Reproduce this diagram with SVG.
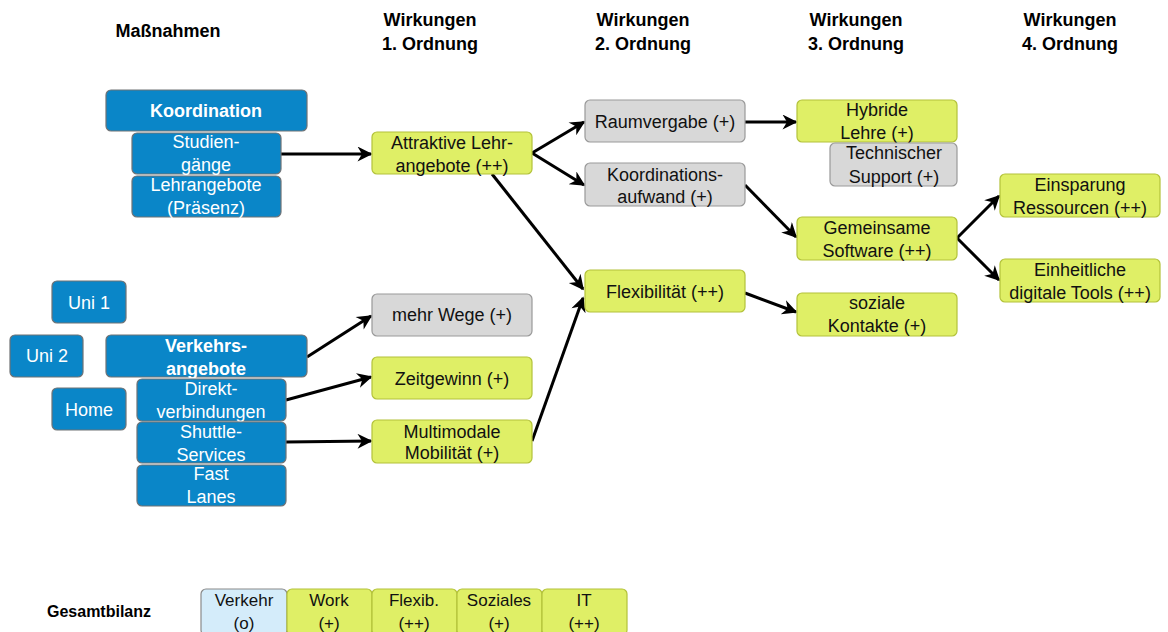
<svg xmlns="http://www.w3.org/2000/svg" width="1168" height="632" viewBox="0 0 1168 632">
  <style>
    text { font-family: "Liberation Sans", Arial, sans-serif; text-anchor: middle; }
    .hd { font-size: 18px; font-weight: bold; fill: #000; }
    .gb { font-size: 16px; font-weight: bold; fill: #000; }
    .t { font-size: 18px; fill: #111; }
    .s { font-size: 17px; fill: #111; }
    .w { font-size: 18px; fill: #fff; }
    .wb { font-size: 18px; fill: #fff; font-weight: bold; }
    .bl { fill: #0a86c8; stroke: #6f7275; stroke-width: 1.2; }
    .gr { fill: #dfef66; stroke: #b3c23a; stroke-width: 1.2; }
    .gy { fill: #d8d8d8; stroke: #999; stroke-width: 1.2; }
    .lb { fill: #d4ecfa; stroke: #8a8a8a; stroke-width: 1.2; }
    .c { fill: none; stroke: #000; stroke-width: 3; marker-end: url(#ah); }
  </style>
  <defs>
    <marker id="ah" viewBox="0 0 10 10" refX="9" refY="5" markerWidth="18" markerHeight="15" markerUnits="userSpaceOnUse" orient="auto">
      <path d="M0,0 L10,5 L0,10 L3,5 Z" fill="#000"/>
    </marker>
  </defs>
  <rect width="1168" height="632" fill="#fff"/>

  <!-- column headers -->
  <g id="headers">
    <text class="hd" x="168" y="37">Maßnahmen</text>
    <text class="hd" x="430" y="26">Wirkungen</text><text class="hd" x="430" y="50">1. Ordnung</text>
    <text class="hd" x="643" y="26">Wirkungen</text><text class="hd" x="643" y="50">2. Ordnung</text>
    <text class="hd" x="856" y="26">Wirkungen</text><text class="hd" x="856" y="50">3. Ordnung</text>
    <text class="hd" x="1070" y="26">Wirkungen</text><text class="hd" x="1070" y="50">4. Ordnung</text>
  </g>

  <!-- connectors -->
  <g id="connectors">
    <path class="c" d="M281,154 L371,154"/>
    <path class="c" d="M532,153 L584,122"/>
    <path class="c" d="M532,153 L584,185"/>
    <path class="c" d="M492,174 L583,289"/>
    <path class="c" d="M745,122 L796,122"/>
    <path class="c" d="M745,185 L796,237"/>
    <path class="c" d="M745,293 L796,312"/>
    <path class="c" d="M957,238 L999,196"/>
    <path class="c" d="M957,238 L999,280"/>
    <path class="c" d="M307,357 L371,316"/>
    <path class="c" d="M286,400 L371,377"/>
    <path class="c" d="M286,442 L371,441"/>
    <path class="c" d="M532,441 L583,298"/>
  </g>

  <!-- measures: coordination -->
  <g id="n-koordination"><rect class="bl" x="106" y="90" width="201" height="41" rx="5"/><text class="wb" x="206" y="117">Koordination</text></g>
  <g id="n-studiengaenge"><rect class="bl" x="132" y="133" width="149" height="41" rx="5"/><text class="w" x="206" y="148">Studien-</text><text class="w" x="206" y="171">gänge</text></g>
  <g id="n-lehrangebote"><rect class="bl" x="132" y="176" width="149" height="41" rx="5"/><text class="w" x="206" y="191">Lehrangebote</text><text class="w" x="206" y="214">(Präsenz)</text></g>

  <!-- measures: transport -->
  <g id="n-uni1"><rect class="bl" x="52" y="281" width="74" height="42" rx="5"/><text class="w" x="89" y="309">Uni 1</text></g>
  <g id="n-uni2"><rect class="bl" x="10" y="335" width="73" height="42" rx="5"/><text class="w" x="47" y="362">Uni 2</text></g>
  <g id="n-home"><rect class="bl" x="52" y="388" width="74" height="42" rx="5"/><text class="w" x="89" y="416">Home</text></g>
  <g id="n-verkehrsangebote"><rect class="bl" x="106" y="335" width="201" height="42" rx="5"/><text class="wb" x="206" y="352">Verkehrs-</text><text class="wb" x="206" y="375">angebote</text></g>
  <g id="n-direkt"><rect class="bl" x="137" y="379" width="149" height="42" rx="5"/><text class="w" x="211" y="395">Direkt-</text><text class="w" x="211" y="418">verbindungen</text></g>
  <g id="n-shuttle"><rect class="bl" x="137" y="422" width="149" height="41" rx="5"/><text class="w" x="211" y="438">Shuttle-</text><text class="w" x="211" y="461">Services</text></g>
  <g id="n-fastlanes"><rect class="bl" x="137" y="465" width="149" height="41" rx="5"/><text class="w" x="211" y="480">Fast</text><text class="w" x="211" y="503">Lanes</text></g>

  <!-- first order -->
  <g id="n-attraktiv"><rect class="gr" x="372" y="132" width="160" height="42" rx="5"/><text class="t" x="452" y="149">Attraktive Lehr-</text><text class="t" x="452" y="172">angebote (++)</text></g>
  <g id="n-mehrwege"><rect class="gy" x="372" y="294" width="160" height="42" rx="5"/><text class="t" x="452" y="321">mehr Wege (+)</text></g>
  <g id="n-zeitgewinn"><rect class="gr" x="372" y="357" width="160" height="42" rx="5"/><text class="t" x="452" y="385">Zeitgewinn (+)</text></g>
  <g id="n-multimodal"><rect class="gr" x="372" y="420" width="160" height="43" rx="5"/><text class="t" x="452" y="438">Multimodale</text><text class="t" x="452" y="459">Mobilität (+)</text></g>

  <!-- second order -->
  <g id="n-raumvergabe"><rect class="gy" x="585" y="100" width="160" height="42" rx="5"/><text class="t" x="665" y="128">Raumvergabe (+)</text></g>
  <g id="n-koordaufwand"><rect class="gy" x="585" y="163" width="160" height="43" rx="5"/><text class="t" x="665" y="181">Koordinations-</text><text class="t" x="665" y="203">aufwand (+)</text></g>
  <g id="n-flexibilitaet"><rect class="gr" x="585" y="270" width="160" height="42" rx="5"/><text class="t" x="665" y="298">Flexibilität (++)</text></g>

  <!-- third order -->
  <g id="n-hybrid"><rect class="gr" x="797" y="100" width="160" height="42" rx="5"/><text class="t" x="877" y="116">Hybride</text><text class="t" x="877" y="139">Lehre (+)</text></g>
  <g id="n-support"><rect class="gy" x="830" y="143" width="127" height="43" rx="5"/><text class="t" x="894" y="159">Technischer</text><text class="t" x="894" y="183">Support (+)</text></g>
  <g id="n-software"><rect class="gr" x="797" y="217" width="160" height="43" rx="5"/><text class="t" x="877" y="234">Gemeinsame</text><text class="t" x="877" y="257">Software (++)</text></g>
  <g id="n-sozial"><rect class="gr" x="797" y="293" width="160" height="43" rx="5"/><text class="t" x="877" y="309">soziale</text><text class="t" x="877" y="332">Kontakte (+)</text></g>

  <!-- fourth order -->
  <g id="n-einsparung"><rect class="gr" x="1000" y="174" width="160" height="43" rx="5"/><text class="t" x="1080" y="191">Einsparung</text><text class="t" x="1080" y="214">Ressourcen (++)</text></g>
  <g id="n-tools"><rect class="gr" x="1000" y="259" width="160" height="43" rx="5"/><text class="t" x="1080" y="276">Einheitliche</text><text class="t" x="1080" y="299">digitale Tools (++)</text></g>

  <!-- overall balance -->
  <g id="bilanz">
    <text class="gb" x="99" y="617">Gesamtbilanz</text>
    <g id="b-verkehr"><rect class="lb" x="201" y="589" width="86" height="46" rx="5"/><text class="s" x="244" y="606">Verkehr</text><text class="s" x="244" y="629">(o)</text></g>
    <g id="b-work"><rect class="gr" x="287" y="589" width="85" height="46" rx="5"/><text class="s" x="329" y="606">Work</text><text class="s" x="329" y="629">(+)</text></g>
    <g id="b-flex"><rect class="gr" x="372" y="589" width="85" height="46" rx="5"/><text class="s" x="414" y="606">Flexib.</text><text class="s" x="414" y="629">(++)</text></g>
    <g id="b-sozial"><rect class="gr" x="457" y="589" width="85" height="46" rx="5"/><text class="s" x="499" y="606">Soziales</text><text class="s" x="499" y="629">(+)</text></g>
    <g id="b-it"><rect class="gr" x="542" y="589" width="85" height="46" rx="5"/><text class="s" x="584" y="606">IT</text><text class="s" x="584" y="629">(++)</text></g>
  </g>
</svg>
